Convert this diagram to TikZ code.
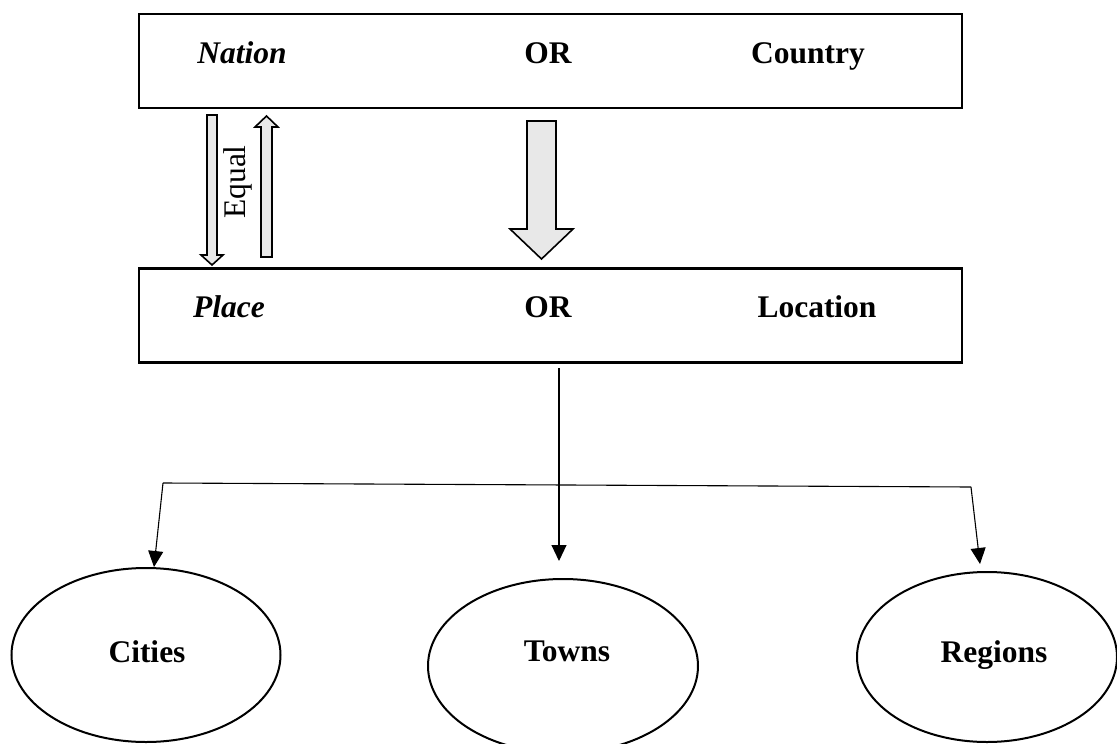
\documentclass[tikz,border=0pt]{standalone}
\usepackage{fontspec}
\setmainfont{Liberation Serif}
\usetikzlibrary{shapes.geometric,arrows.meta}
\begin{document}
\begin{tikzpicture}[x=1pt,y=-1pt,
  bigbox/.style={draw,line width=2.2pt,minimum width=823pt,minimum height=94pt,inner sep=0pt},
  oval/.style={draw,ellipse,line width=2pt,inner sep=0pt},
  txt/.style={anchor=base,inner sep=0pt,font=\fontsize{31.5}{38}\selectfont\bfseries},
  itxt/.style={txt,font=\fontsize{31.5}{38}\selectfont\bfseries\itshape},
  blockarrow/.style={draw,line width=1.6pt,fill=gray!18,line join=miter},
  link/.style={line width=1.1pt,-{Triangle[length=16pt,width=15pt]}},
  plain/.style={line width=1.1pt}]
\useasboundingbox (0,0) rectangle (1117,744);
\clip (0,0) rectangle (1117,744);

% the two boxes
\node[bigbox] (nat) at (550.5,61) {};
\node[bigbox] (plc) at (550.5,315.5) {};

\node[itxt] (tnat) at (242,63) {Nation};
\node[txt] (tor1) at (548,63) {OR};
\node[txt] (tcty) at (808,63) {Country};

\node[itxt] (tplc) at (229,317) {Place};
\node[txt] (tor2) at (548,317) {OR};
\node[txt] (tloc) at (817,317) {Location};

% hollow arrows between the boxes
\draw[blockarrow] (207,115) -- (217,115) -- (217,255) -- (223,255) -- (212,265)
  -- (201,255) -- (207,255) -- cycle;
\draw[blockarrow] (261,257) -- (272,257) -- (272,127) -- (278,127) -- (266.5,116)
  -- (255,127) -- (261,127) -- cycle;
\node[rotate=90,inner sep=0pt,font=\fontsize{31.5}{38}\selectfont] (teq) at (238,182) {Equal};

% wide arrow
\draw[blockarrow] (527,121) -- (556,121) -- (556,229) -- (573,229) -- (541.5,259)
  -- (510,229) -- (527,229) -- cycle;

% the three ovals
\node[oval,minimum width=269pt,minimum height=174pt] (cit) at (146,655) {};
\node[oval,minimum width=270pt,minimum height=174pt] (twn) at (563,666) {};
\node[oval,minimum width=260pt,minimum height=170pt] (reg) at (987,657) {};

\node[txt] (tcit) at (147,662) {Cities};
\node[txt] (ttwn) at (567,661) {Towns};
\node[txt] (treg) at (994,662) {Regions};

% branching connectors
\coordinate (jl) at (163,483);
\coordinate (jr) at (971,487);
\coordinate (src) at (559,368);
\draw[plain] (jl) -- (jr);
\draw[link] (src) -- (559,561);
\draw[link] (jl) -- (154,567);
\draw[link] (jr) -- (980,564);
\end{tikzpicture}
\end{document}
